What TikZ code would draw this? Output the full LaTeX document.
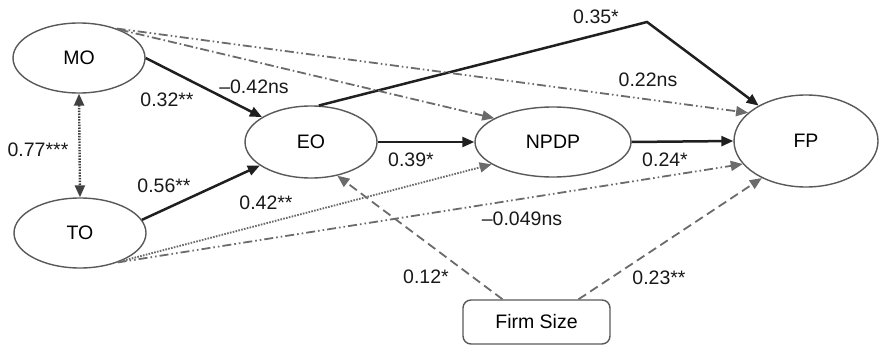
\documentclass[tikz,border=0pt]{standalone}
\usepackage{fontspec}
\setmainfont{Liberation Sans}
\usetikzlibrary{arrows.meta,shapes.geometric}
\begin{document}
\begin{tikzpicture}[x=1pt,y=-1pt,
  every node/.style={font=\fontsize{19.5}{21}\selectfont},
  latent/.style={ellipse,draw=black!65,line width=1.4pt,inner sep=0pt},
  lbl/.style={inner sep=0pt,text=black!90},
  tip/.style={-{Triangle[length=12pt,width=10pt]}},
  solidarr/.style={tip,draw=black!88,line width=2.5pt},
  dashdotdot/.style={tip,draw=black!58,line width=1.8pt,dash pattern=on 9pt off 3pt on 1.6pt off 3pt on 1.6pt off 3pt},
  dashdotarr/.style={tip,draw=black!58,line width=1.8pt,dash pattern=on 9pt off 3pt on 1.6pt off 3pt},
  dotarr/.style={tip,draw=black!58,line width=1.9pt,dash pattern=on 1.6pt off 1.3pt},
  dasharr/.style={tip,draw=black!58,line width=1.8pt,dash pattern=on 9pt off 5pt}
]
\useasboundingbox (0,0) rectangle (880,353);
\node[latent,minimum width=132pt,minimum height=70pt] (MO) at (79,58) {MO};
\node[latent,minimum width=132pt,minimum height=70pt] (TO) at (80,233) {TO};
\node[latent,minimum width=132pt,minimum height=72pt] (EO) at (311,142) {EO};
\node[latent,minimum width=156pt,minimum height=70pt] (NPDP) at (553,142) {NPDP};
\node[latent,minimum width=144pt,minimum height=92pt] (FP) at (806,141) {FP};
\node[draw=black!65,line width=1.4pt,rounded corners=8pt,minimum width=147pt,minimum height=44pt] (FS) at (536.5,322) {Firm Size};
\coordinate (bend) at (647,22);

% correlation
\draw[{Triangle[length=12pt,width=10pt]}-{Triangle[length=12pt,width=10pt]},draw=black!75,line width=2.4pt,dash pattern=on 1.5pt off 1.3pt] (MO.south) -- (TO.north);
% solid paths
\draw[solidarr] (MO.east) -- (EO);
\draw[solidarr] (TO.12) -- (EO);
\draw[solidarr] (EO.east) -- (NPDP.west);
\draw[solidarr] (NPDP.east) -- (FP.west);
\draw[solidarr] (EO.78) -- (bend) -- (FP);
% other paths
\draw[dashdotarr] (MO.35) -- (NPDP.158);
\draw[dashdotdot] (MO.38) -- (FP.154);
\draw[dotarr] (TO.-35) -- (NPDP.200);
\draw[dashdotdot] (TO.-38) -- (FP.200);
\draw[dasharr] ([xshift=-34pt]FS.north) -- (EO.-52);
\draw[dasharr] ([xshift=42pt]FS.north) -- (FP.220);

% labels
\node[lbl] (l32) at (167,100) {0.32**};
\node[lbl] (l42n) at (254,87) {–0.42ns};
\node[lbl] (l77) at (38,150) {0.77***};
\node[lbl] (l56) at (164,186) {0.56**};
\node[lbl] (l42) at (266,203) {0.42**};
\node[lbl] (l39) at (411,160) {0.39*};
\node[lbl] (l35) at (596,17) {0.35*};
\node[lbl] (l22) at (648,80) {0.22ns};
\node[lbl] (l24) at (665,160) {0.24*};
\node[lbl] (l049) at (522,219) {–0.049ns};
\node[lbl] (l12) at (426,277) {0.12*};
\node[lbl] (l23) at (659,278) {0.23**};
\end{tikzpicture}
\end{document}
